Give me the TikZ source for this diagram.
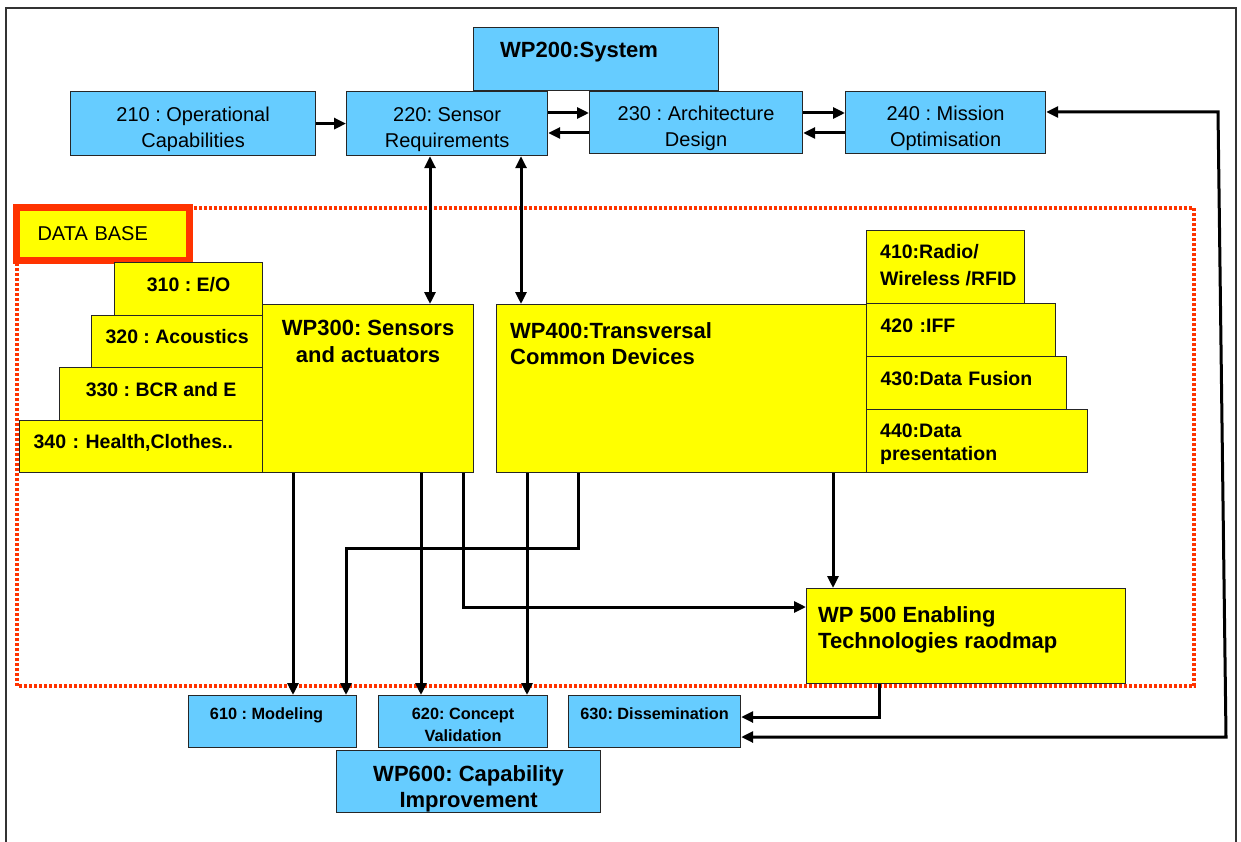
\documentclass[tikz,border=0pt]{standalone}
\usepackage{fontspec}
\setmainfont{Liberation Sans}
\usetikzlibrary{arrows.meta, calc}
\definecolor{skyblu}{RGB}{102, 204, 255}
\definecolor{wpyellow}{RGB}{255, 255, 0}
\definecolor{dbred}{RGB}{255, 51, 0}
\newcommand{\plaintxt}{\fontsize{20}{26}\selectfont}
\newcommand{\wptxt}{\fontsize{22}{26.5}\selectfont\bfseries}
\newcommand{\subtxt}{\fontsize{19.5}{26}\selectfont\bfseries}
\newcommand{\smalltxt}{\fontsize{16.3}{22}\selectfont\bfseries}
\frenchspacing

\begin{document}
\begin{tikzpicture}[x=1pt, y=-1pt,
  box/.style={draw=black!85, line width=1.2pt, inner sep=0pt, anchor=north west},
  bluebox/.style={box, fill=skyblu},
  yelbox/.style={box, fill=wpyellow},
  plain/.style={font=\plaintxt, align=center, text height=52pt},
  subl/.style={font=\subtxt, align=center},
  subr/.style={font=\subtxt, align=left, inner xsep=14pt},
  oneline/.style={text height=14pt, text depth=10pt},
  sublab/.style={font=\subtxt, align=left, inner sep=0pt},
  wplab/.style={font=\wptxt, align=left, inner sep=0pt},
  smlab/.style={font=\smalltxt, align=center, inner sep=0pt},
  link/.style={line width=3pt, -{Triangle[length=12pt, width=11pt]}},
  dlink/.style={line width=3pt, {Triangle[length=12pt, width=11pt]}-{Triangle[length=12pt, width=11pt]}},
  dbline/.style={draw=dbred, line width=4pt, dash pattern=on 3pt off 2pt}
]
  \useasboundingbox[fill=white] (0,0) rectangle (1241,842);
  \draw[line width=1.5pt, black!80] (6,842) -- (6,8) -- (1236,8) -- (1236,842);

  % WP200 and its tasks
  \node[bluebox, minimum width=245pt, minimum height=63pt,
    label={[wplab, anchor=north west, xshift=27pt, yshift=-15pt]north west:{WP200:System}}] (wp200) at (473,27) {};
  \node[bluebox, plain, minimum width=245pt, minimum height=64pt] (op210) at (70,91) {210 : Operational\\Capabilities};
  \node[bluebox, plain, minimum width=201pt, minimum height=64pt] (sr220) at (346,91) {220: Sensor\\Requirements};
  \node[bluebox, plain, minimum width=213pt, minimum height=62pt] (ad230) at (589,91) {230 : Architecture\\Design};
  \node[bluebox, plain, minimum width=200pt, minimum height=62pt] (mo240) at (845,91) {240 : Mission\\Optimisation};

  % data base area
  \draw[dbline] (17,208) rectangle (1194,686);
  \node[yelbox, draw=dbred, line width=7pt, font=\plaintxt, align=left, text width=131pt, inner xsep=21pt,
    minimum width=173pt, minimum height=53pt] (dbase) at (13,204) {DATA BASE};

  % WP300
  \node[yelbox, minimum width=211pt, minimum height=168pt,
    label={[wplab, align=center, anchor=north, yshift=-16pt]north:{WP300: Sensors\\and actuators}}] (wp300) at (262,304) {};
  \node[yelbox, subl, oneline, minimum width=148pt, minimum height=53pt] (e310) at (114,262) {310 : E/O};
  \node[yelbox, subl, oneline, minimum width=171pt, minimum height=52pt] (ac320) at (91,315) {320 : Acoustics};
  \node[yelbox, subl, oneline, minimum width=203pt, minimum height=53pt] (bcr330) at (59,367) {330 : BCR and E};
  \node[yelbox, subr, oneline, text width=215pt, minimum height=52pt] (hc340) at (19,420) {340 : Health,Clothes..};

  % WP400
  \node[yelbox, minimum width=370pt, minimum height=168pt,
    label={[wplab, anchor=north west, xshift=14pt, yshift=-18pt]north west:{WP400:Transversal\\Common Devices}}] (wp400) at (496,304) {};
  \node[yelbox, minimum width=158pt, minimum height=73pt,
    label={[sublab, anchor=north west, xshift=14pt, yshift=-14pt]north west:{410:Radio/\\[1pt]Wireless /RFID}}] (rf410) at (866,230) {};
  \node[yelbox, subr, oneline, text width=161pt, minimum height=53pt] (iff420) at (866,303) {420 :IFF};
  \node[yelbox, subr, oneline, text width=172pt, minimum height=53pt] (df430) at (866,356) {430:Data Fusion};
  \node[yelbox, minimum width=221pt, minimum height=63pt,
    label={[sublab, anchor=north west, xshift=14pt, yshift=-15pt]north west:{440:Data\\[-3pt]presentation}}] (dp440) at (866,409) {};

  % WP500
  \node[yelbox, minimum width=319pt, minimum height=95pt,
    label={[wplab, anchor=north west, xshift=12pt, yshift=-18pt]north west:{WP 500 Enabling\\Technologies raodmap}}] (wp500) at (806,588) {};

  % WP600
  \node[bluebox, minimum width=168pt, minimum height=52pt,
    label={[smlab, anchor=north, xshift=-6pt, yshift=-12pt]north:{610 : Modeling}}] (mod610) at (188,695) {};
  \node[bluebox, font=\smalltxt, align=center, text height=40pt, minimum width=169pt, minimum height=52pt] (cv620) at (378,695) {620: Concept\\Validation};
  \node[bluebox, minimum width=172pt, minimum height=52pt,
    label={[smlab, anchor=north, yshift=-12pt]north:{630: Dissemination}}] (dis630) at (568,695) {};
  \node[bluebox, font=\wptxt, align=center, text height=57pt, minimum width=264pt, minimum height=62pt] (wp600) at (336,750) {WP600: Capability\\Improvement};

  % connectors
  \coordinate (t1) at (0,113);
  \coordinate (t2) at (0,133);
  \coordinate (v1) at (430,0);
  \coordinate (v2) at (521,0);
  \coordinate (v3) at (293,0);
  \coordinate (v4) at (421,0);
  \coordinate (v5) at (527,0);
  \coordinate (v6) at (833,0);
  \coordinate (b1) at (463,607);
  \coordinate (b2) at (578,548);
  \coordinate (b3) at (346,548);
  \coordinate (b4) at (879,717);
  \coordinate (r1) at (1226,737);
  \coordinate (r2) at (1218,112);

  \draw[link] (op210.east) -- (sr220.west);
  \draw[link] (sr220.east |- t1) -- (ad230.west |- t1);
  \draw[link] (ad230.west |- t2) -- (sr220.east |- t2);
  \draw[link] (ad230.east |- t1) -- (mo240.west |- t1);
  \draw[link] (mo240.west |- t2) -- (ad230.east |- t2);
  \draw[dlink] (sr220.south -| v1) -- (wp300.north -| v1);
  \draw[dlink] (sr220.south -| v2) -- (wp400.north -| v2);
  \draw[link] (wp300.south -| v3) -- (mod610.north -| v3);
  \draw[link] (wp300.south -| v4) -- (cv620.north -| v4);
  \draw[link] (wp300.south -| b1) |- (wp500.west |- b1);
  \draw[link] (wp400.south -| b2) -- (b2) -- (b3) -- (mod610.north -| b3);
  \draw[link] (wp400.south -| v5) -- (cv620.north -| v5);
  \draw[link] (wp400.south -| v6) -- (wp500.north -| v6);
  \draw[link] (wp500.south -| b4) |- (dis630.east |- b4);
  \draw[dlink] (dis630.east |- r1) -- (r1) -- (r2) -- (mo240.east |- r2);
\end{tikzpicture}
\end{document}
